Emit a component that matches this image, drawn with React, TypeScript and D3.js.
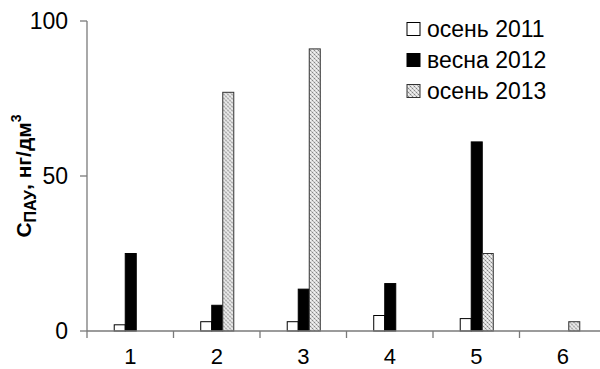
import React from "react";
import * as d3 from "d3";

const categories = ["1", "2", "3", "4", "5", "6"];
const seriesNames = ["осень 2011", "весна 2012", "осень 2013"];
const autumn2011 = [2, 3, 3, 5, 4, 0];
const spring2012 = [25, 8.3, 13.5, 15.3, 61, 0];
const autumn2013 = [0, 77, 91, 0, 25, 3];
const yTicks = [0, 50, 100];

const W = 600;
const H = 369;
const FONT = "Arial, 'Liberation Sans', sans-serif";

export default function App() {
  const x0 = d3.scaleBand<string>().domain(categories).range([87, 606]).paddingInner(0).paddingOuter(0);
  const bw = x0.bandwidth();
  const x1 = d3.scaleBand<string>().domain(seriesNames).range([bw * 0.309, bw * 0.691]).padding(0);
  const y = d3.scaleLinear().domain([0, 100]).range([331, 21]);

  const values = [autumn2011, spring2012, autumn2013];
  const fills = ["#ffffff", "#000000", "url(#dots)"];
  const strokes = ["#000", "#000", "#333"];

  return (
    <svg width={W} height={H} style={{ position: "absolute", left: 0, top: 0, background: "#fff" }}>
      <defs>
        <pattern id="dots" patternUnits="userSpaceOnUse" width="4" height="4">
          <rect width="4" height="4" fill="#dedede" />
          <rect x="0" y="0" width="1" height="1" fill="#858585" />
          <rect x="2" y="2" width="1" height="1" fill="#858585" />
          <rect x="1" y="1" width="1" height="1" fill="#b5b5b5" />
          <rect x="3" y="3" width="1" height="1" fill="#b5b5b5" />
          <rect x="2" y="0" width="1" height="1" fill="#f5f5f5" />
          <rect x="0" y="2" width="1" height="1" fill="#f5f5f5" />
        </pattern>
      </defs>

      {/* bars */}
      {categories.map((c, i) => (
        <g key={c} transform={`translate(${x0(c)},0)`}>
          {seriesNames.map((s, k) => {
            const v = values[k][i];
            if (!v) return null;
            return (
              <rect
                key={s}
                x={(x1(s) as number) + 0.5}
                y={y(v)}
                width={x1.bandwidth()}
                height={y(0) - y(v)}
                fill={fills[k]}
                stroke={strokes[k]}
                strokeWidth={1}
              />
            );
          })}
        </g>
      ))}

      {/* axes */}
      <g stroke="#7a7a7a" strokeWidth={1.3} fill="none">
        <line x1={87} x2={87} y1={y(100)} y2={338} />
        <line x1={87} x2={606} y1={y(0)} y2={y(0)} />
        {yTicks.map((t) => (
          <line key={t} x1={80} x2={87} y1={y(t)} y2={y(t)} />
        ))}
        {categories.slice(1).map((c) => (
          <line key={c} x1={x0(c)} x2={x0(c)} y1={y(0)} y2={338} />
        ))}
      </g>

      {yTicks.map((t) => (
        <text key={t} x={68} y={y(t)} dy="0.36em" textAnchor="end" fontFamily={FONT} fontSize={23} fill="#000">
          {t}
        </text>
      ))}
      {categories.map((c) => (
        <text key={c} x={(x0(c) as number) + bw / 2} y={364} textAnchor="middle" fontFamily={FONT} fontSize={22} fill="#000">
          {c}
        </text>
      ))}

      {/* y axis title */}
      <text transform="translate(31,176) rotate(-90)" textAnchor="middle" fontFamily={FONT} fontSize={21} fontWeight="bold" fill="#000">
        С<tspan fontSize={16} dy={5}>ПАУ</tspan>
        <tspan dy={-5}>, нг/дм</tspan>
        <tspan fontSize={14} dy={-10}>3</tspan>
      </text>

      {/* legend */}
      {seriesNames.map((s, k) => {
        const cy = 29 + k * 31;
        return (
          <g key={s}>
            <rect x={407} y={cy - 6.5} width={13} height={13} fill={fills[k]} stroke={strokes[k]} strokeWidth={1} />
            <text x={427} y={cy} dy="0.36em" fontFamily={FONT} fontSize={23} fill="#000">
              {s}
            </text>
          </g>
        );
      })}
    </svg>
  );
}
